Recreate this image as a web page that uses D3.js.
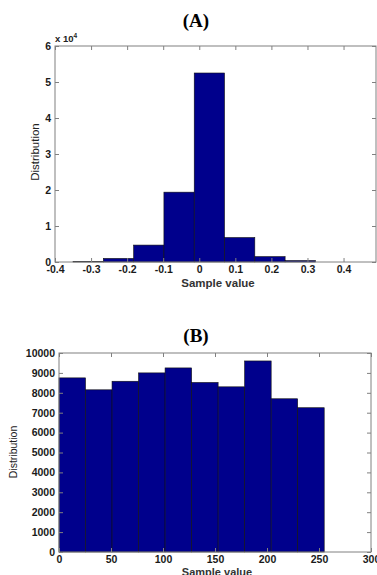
<!DOCTYPE html>
<html>
<head>
<meta charset="utf-8">
<script src="https://cdn.jsdelivr.net/npm/d3@7"></script>
<style>
  html, body { margin: 0; padding: 0; background: #fff; }
  svg { display: block; }
  .tick text { font-family: "Liberation Sans", Arial, sans-serif; font-weight: bold; fill: #1a1a1a; }
</style>
</head>
<body>
<svg id="chart" width="377" height="575"></svg>
<script>
// panel A: wavelet coefficients histogram (counts, x 10^4 on axis)
const binsA = [-0.35, -0.266, -0.182, -0.098, -0.014, 0.07, 0.154, 0.238, 0.322];
const countsA = [100, 1000, 4700, 19400, 52500, 6800, 1500, 400];
const xTicksA = [-0.4, -0.3, -0.2, -0.1, 0, 0.1, 0.2, 0.3, 0.4];
const yTicksA = [0, 1, 2, 3, 4, 5, 6];

// panel B: pixel value histogram
const binsB = [0, 25.5, 51, 76.5, 102, 127.5, 153, 178.5, 204, 229.5, 255];
const countsB = [8750, 8150, 8580, 9000, 9250, 8520, 8300, 9600, 7700, 7250];
const xTicksB = [0, 50, 100, 150, 200, 250, 300];
const yTicksB = [0, 1000, 2000, 3000, 4000, 5000, 6000, 7000, 8000, 9000, 10000];

const svg = d3.select("#chart");
const BAR = "#00008c";
const AXIS = "#808080";

function drawPanel(p) {
  const x = d3.scaleLinear().domain(p.xDomain).range([p.left, p.right]);
  const y = d3.scaleLinear().domain(p.yDomain).range([p.bottom, p.top]);
  const g = svg.append("g");

  // title
  svg.append("text")
    .attr("x", p.titleX).attr("y", p.titleY)
    .attr("text-anchor", "middle")
    .attr("font-family", "Liberation Serif, Times New Roman, serif")
    .attr("font-weight", "bold").attr("font-size", 19)
    .text(p.title);

  // bars
  const bars = p.counts.map((c, i) => ({ x0: p.bins[i], x1: p.bins[i + 1], v: c }));
  g.selectAll("rect.bar").data(bars).join("rect")
    .attr("class", "bar")
    .attr("x", (d) => x(d.x0))
    .attr("width", (d) => x(d.x1) - x(d.x0))
    .attr("y", (d) => y(d.v * p.yScaleMul))
    .attr("height", (d) => p.bottom - y(d.v * p.yScaleMul))
    .attr("fill", BAR)
    .attr("stroke", "#111")
    .attr("stroke-width", 0.6);

  // axes with inward ticks (matlab style)
  const fs = p.fontSize;
  const xAxis = d3.axisBottom(x).tickValues(p.xTicks).tickSizeInner(-4).tickSizeOuter(0)
    .tickPadding(p.xPad).tickFormat(p.xFmt);
  const gx = g.append("g").attr("transform", `translate(0,${p.bottom})`).call(xAxis);
  gx.selectAll("text").attr("font-size", fs);

  const xTop = d3.axisTop(x).tickValues(p.xTicks).tickSizeInner(-4).tickSizeOuter(0).tickFormat("");
  g.append("g").attr("transform", `translate(0,${p.top})`).call(xTop);

  const yAxis = d3.axisLeft(y).tickValues(p.yTicks).tickSizeInner(-4).tickSizeOuter(0)
    .tickPadding(4).tickFormat(d3.format("d"));
  const gy = g.append("g").attr("transform", `translate(${p.left},0)`).call(yAxis);
  gy.selectAll("text").attr("font-size", fs);

  const yRight = d3.axisRight(y).tickValues(p.yTicks).tickSizeInner(-4).tickSizeOuter(0).tickFormat("");
  g.append("g").attr("transform", `translate(${p.right},0)`).call(yRight);

  g.selectAll(".domain").remove();
  g.selectAll(".tick line").attr("stroke", AXIS);

  // box
  g.append("rect")
    .attr("x", p.left).attr("y", p.top)
    .attr("width", p.right - p.left).attr("height", p.bottom - p.top)
    .attr("fill", "none").attr("stroke", AXIS).attr("stroke-width", 1);

  // labels
  svg.append("text")
    .attr("x", p.xLabelX).attr("y", p.xLabelY)
    .attr("text-anchor", "middle")
    .attr("font-family", "Liberation Sans, Arial, sans-serif")
    .attr("font-weight", "bold").attr("font-size", p.xLabelSize).attr("fill", "#333")
    .text("Sample value");

  svg.append("text")
    .attr("transform", `translate(${p.yLabelX},${p.yLabelY}) rotate(-90)`)
    .attr("text-anchor", "middle")
    .attr("font-family", "Liberation Sans, Arial, sans-serif")
    .attr("font-size", p.yLabelSize).attr("fill", "#222")
    .text("Distribution");

  return { x, y };
}

// matlab uses a plain hyphen for negatives
const fmtA = (d) => (d === 0 ? "0" : d3.format(".1f")(d).replace("\u2212", "-"));

drawPanel({
  title: "(A)", titleX: 196, titleY: 27,
  left: 55, right: 376, top: 46, bottom: 262,
  xDomain: [-0.4, 0.49], yDomain: [0, 6],
  bins: binsA, counts: countsA, yScaleMul: 1e-4,
  xTicks: xTicksA, yTicks: yTicksA, xFmt: fmtA, fontSize: 10.5, xPad: 4,
  xLabelX: 218, xLabelY: 287, xLabelSize: 11.5,
  yLabelX: 39, yLabelY: 152, yLabelSize: 11.5
});

// exponent label for panel A
const expo = svg.append("text")
  .attr("x", 55).attr("y", 42)
  .attr("font-family", "Liberation Sans, Arial, sans-serif")
  .attr("font-weight", "bold").attr("font-size", 9.5).attr("fill", "#222");
expo.append("tspan").text("x 10");
expo.append("tspan").attr("font-size", 6.5).attr("dy", -4).text("4");

drawPanel({
  title: "(B)", titleX: 196, titleY: 342,
  left: 59, right: 371, top: 353, bottom: 552,
  xDomain: [0, 300], yDomain: [0, 10000],
  bins: binsB, counts: countsB, yScaleMul: 1,
  xTicks: xTicksB, yTicks: yTicksB, xFmt: d3.format("d"), fontSize: 10.5, xPad: 4,
  xLabelX: 217, xLabelY: 576, xLabelSize: 11,
  yLabelX: 17, yLabelY: 452, yLabelSize: 10.5
});
</script>
</body>
</html>
